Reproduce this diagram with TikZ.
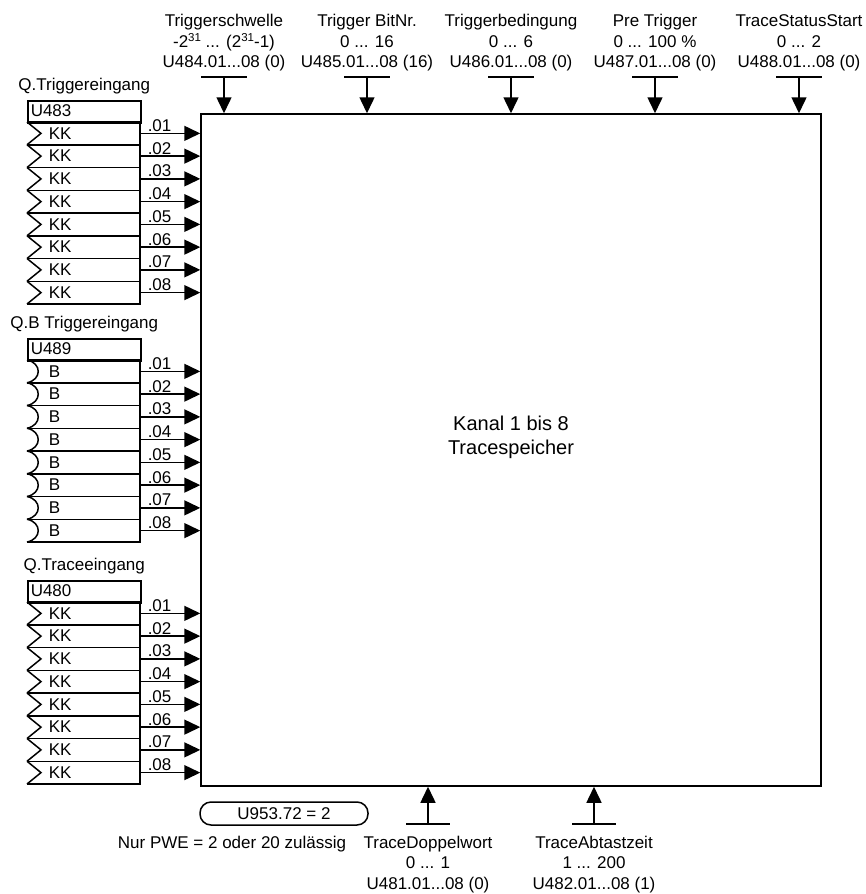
\documentclass[tikz,border=0pt]{standalone}
\usepackage{fontspec}
\setmainfont{Liberation Sans}
\usetikzlibrary{arrows.meta,positioning}
\newcommand{\txtsize}{\fontsize{17pt}{20.5pt}\selectfont}
\newcommand{\hoch}[1]{\raisebox{5.5pt}{\fontsize{11.5pt}{12pt}\selectfont #1}}
\tikzset{
pfeil/.style={-{Triangle[length=16pt,width=15pt]}},
kasten/.style={draw,inner sep=0pt}
}
\begin{document}
\begin{tikzpicture}[x=1pt,y=-1pt,line width=1.5pt,every node/.style={font=\txtsize,inner sep=0pt}]
\useasboundingbox (0,0) rectangle (866,894);
\node[kasten,minimum width=620pt,minimum height=672pt] (kanal) at (511,450) {};
\node[align=center,font=\fontsize{20pt}{24pt}\selectfont] (kanaltxt) at (511,437) {Kanal 1 bis 8\\Tracespeicher};

\foreach \x/\nm/\lab in {224/tsw/{Triggerschwelle\\-2\hoch{31} ... (2\hoch{31}-1)\\U484.01...08 (0)},
367/tbit/{Trigger BitNr.\\0 ... 16\\U485.01...08 (16)},
511/tbed/{Triggerbedingung\\0 ... 6\\U486.01...08 (0)},
655/pre/{Pre Trigger\\0 ... 100 \%\\U487.01...08 (0)},
799/tss/{TraceStatusStart\\0 ... 2\\U488.01...08 (0)}}
{
\coordinate (\nm) at (\x,77);
\draw ([xshift=-23pt]\nm) -- ([xshift=23pt]\nm);
\draw[pfeil] (\nm) -- (\nm |- kanal.north);
\node[above=5pt of \nm,align=center] (\nm-txt) {\lab};
}

\foreach \y/\grp/\hdr/\titel/\form/\txt in {100/tr/U483/Q.Triggereingang/1/KK,
338/bt/U489/{Q.B Triggereingang}/2/B,
580/tc/U480/Q.Traceeingang/1/KK}
{
\node[kasten,minimum width=113pt,minimum height=22pt,anchor=north west] (\grp-hdr) at (27,\y) {};
\node[anchor=west] (\grp-nr) at (30,\y+11) {\hdr};
\node[above=5pt of \grp-hdr] (\grp-titel) {\titel};
\foreach \i in {1,...,8}
{
\pgfmathsetmacro{\ya}{\y+22+(\i-1)*22.75}
\pgfmathsetmacro{\yb}{\ya+22.75}
\pgfmathsetmacro{\ym}{\ya+11.375}
\draw (27,\ya) -- (140,\ya) -- (140,\yb) -- (27,\yb);
\ifnum\form=1
\draw (27,\ya) -- (41,\ym) -- (27,\yb);
\else
\draw (27,\ya) .. controls (42,\ya+3) and (42,\yb-3) .. (27,\yb);
\fi
\node[anchor=west] (\grp-\i) at (48,\ym) {\txt};
\coordinate (\grp-out\i) at (140,\ym);
\draw[pfeil] (\grp-out\i) -- (\grp-out\i -| kanal.west);
\node[anchor=south west] (\grp-lab\i) at ([xshift=7pt,yshift=1pt]\grp-out\i) {.0\i};
}
}

\foreach \x/\nm/\lab in {428/tdw/{TraceDoppelwort\\0 ... 1\\U481.01...08 (0)},
594/tab/{TraceAbtastzeit\\1 ... 200\\U482.01...08 (1)}}
{
\coordinate (\nm) at (\x,824);
\draw ([xshift=-22pt]\nm) -- ([xshift=22pt]\nm);
\draw[pfeil] (\nm) -- (\nm |- kanal.south);
\node[below=11pt of \nm,align=center] (\nm-txt) {\lab};
}
\node[kasten,rounded corners=11pt,minimum width=168pt,minimum height=23pt] (pwe) at (284,813.5) {U953.72 = 2};
\node[anchor=base] (pwetxt) at (232,848) {Nur PWE = 2 oder 20 zulässig};
\end{tikzpicture}
\end{document}
